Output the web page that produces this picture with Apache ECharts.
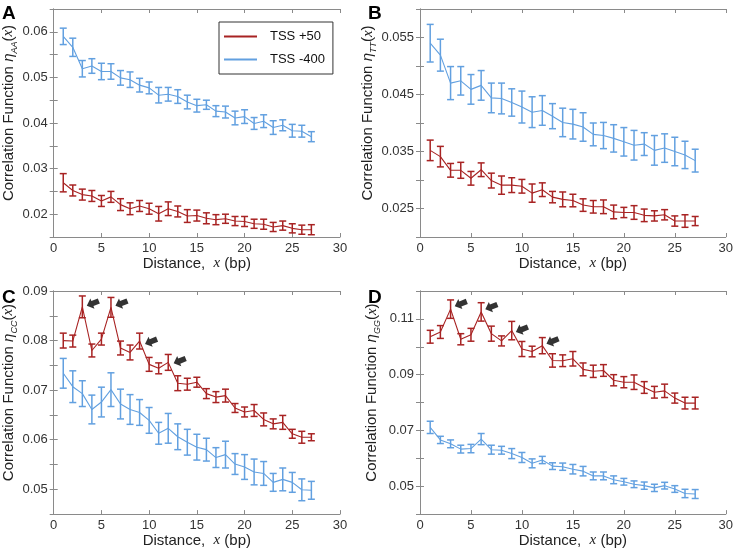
<!DOCTYPE html>
<html>
<head>
<meta charset="utf-8">
<script src="https://cdn.jsdelivr.net/npm/echarts@6/dist/echarts.min.js"></script>
<style>
  html, body { margin: 0; padding: 0; background: #fff; }
  #main { width: 736px; height: 549px; }
</style>
</head>
<body>
<div id="main"></div>
<script>
// distance x (bp)
var distance = [1,2,3,4,5,6,7,8,9,10,11,12,13,14,15,16,17,18,19,20,21,22,23,24,25,26,27];
var xTicks = [0, 5, 10, 15, 20, 25, 30];

// A: eta_AA
var aRed = [0.0269,0.0252,0.0243,0.0240,0.0229,0.0238,0.0221,0.0212,0.0218,0.0212,0.0201,0.0212,0.0206,0.0196,0.0197,0.0191,0.0188,0.0190,0.0185,0.0184,0.0179,0.0178,0.0172,0.0175,0.0169,0.0166,0.0166];
var aRedErr = [0.0020,0.0012,0.0012,0.0012,0.0012,0.0012,0.0013,0.0013,0.0012,0.0012,0.0016,0.0015,0.0012,0.0014,0.0012,0.0012,0.0011,0.0010,0.0010,0.0011,0.0010,0.0011,0.0010,0.0010,0.0010,0.0010,0.0011];
var aBlue = [0.0590,0.0566,0.0519,0.0525,0.0513,0.0513,0.0499,0.0495,0.0483,0.0477,0.0461,0.0463,0.0458,0.0446,0.0438,0.0440,0.0426,0.0424,0.0411,0.0414,0.0399,0.0404,0.0390,0.0395,0.0383,0.0382,0.0370];
var aBlueErr = [0.0018,0.0020,0.0018,0.0016,0.0018,0.0017,0.0016,0.0017,0.0015,0.0013,0.0017,0.0015,0.0015,0.0015,0.0014,0.0010,0.0012,0.0013,0.0015,0.0015,0.0013,0.0014,0.0015,0.0012,0.0014,0.0013,0.0011];
var aTicks = [0.02, 0.03, 0.04, 0.05, 0.06];

// B: eta_TT
var bRed = [0.0352,0.0341,0.0317,0.0317,0.0303,0.0318,0.0299,0.0291,0.0291,0.0289,0.0277,0.0283,0.0270,0.0266,0.0264,0.0256,0.0253,0.0253,0.0244,0.0243,0.0243,0.0238,0.0237,0.0239,0.0228,0.0228,0.0228];
var bRedErr = [0.0018,0.0018,0.0012,0.0014,0.0012,0.0012,0.0013,0.0016,0.0013,0.0012,0.0016,0.0012,0.0010,0.0013,0.0011,0.0011,0.0011,0.0012,0.0012,0.0009,0.0012,0.0011,0.0009,0.0009,0.0009,0.0011,0.0008];
var bBlue = [0.0540,0.0519,0.0470,0.0474,0.0459,0.0466,0.0444,0.0443,0.0436,0.0428,0.0419,0.0422,0.0412,0.0401,0.0398,0.0393,0.0380,0.0378,0.0373,0.0367,0.0361,0.0363,0.0352,0.0356,0.0350,0.0344,0.0334];
var bBlueErr = [0.0033,0.0028,0.0029,0.0025,0.0026,0.0026,0.0026,0.0027,0.0024,0.0028,0.0027,0.0026,0.0022,0.0025,0.0026,0.0025,0.0020,0.0023,0.0024,0.0025,0.0026,0.0020,0.0026,0.0025,0.0025,0.0024,0.0020];
var bTicks = [0.025, 0.035, 0.045, 0.055];

// C: eta_CC
var cRed = [0.0800,0.0799,0.0868,0.0780,0.0803,0.0867,0.0785,0.0776,0.0799,0.0752,0.0744,0.0756,0.0714,0.0712,0.0716,0.0693,0.0686,0.0689,0.0664,0.0656,0.0659,0.0641,0.0632,0.0635,0.0612,0.0605,0.0605];
var cRedErr = [0.0015,0.0012,0.0022,0.0013,0.0012,0.0020,0.0014,0.0015,0.0016,0.0014,0.0011,0.0016,0.0015,0.0012,0.0010,0.0010,0.0011,0.0013,0.0009,0.0010,0.0012,0.0013,0.0010,0.0014,0.0009,0.0012,0.0007];
var cBlue = [0.0734,0.0707,0.0693,0.0661,0.0676,0.0701,0.0672,0.0661,0.0655,0.0639,0.0613,0.0623,0.0606,0.0595,0.0585,0.0580,0.0564,0.0570,0.0551,0.0545,0.0535,0.0532,0.0514,0.0520,0.0514,0.0499,0.0498];
var cBlueErr = [0.0030,0.0032,0.0026,0.0029,0.0030,0.0034,0.0030,0.0030,0.0026,0.0026,0.0022,0.0030,0.0026,0.0026,0.0026,0.0023,0.0020,0.0027,0.0021,0.0025,0.0026,0.0024,0.0018,0.0023,0.0020,0.0022,0.0018];
var cTicks = [0.05, 0.06, 0.07, 0.08, 0.09];
var cArrows = [[4.1, 0.0875], [7.1, 0.0875], [10.2, 0.0798], [13.2, 0.0759]];

// D: eta_GG
var dRed = [0.1036,0.1053,0.1135,0.1027,0.1043,0.1125,0.1047,0.1021,0.1058,0.0992,0.0983,0.1004,0.0951,0.0950,0.0957,0.0919,0.0912,0.0915,0.0880,0.0873,0.0873,0.0854,0.0837,0.0842,0.0816,0.0798,0.0798];
var dRedErr = [0.0023,0.0023,0.0033,0.0020,0.0023,0.0033,0.0027,0.0018,0.0033,0.0027,0.0019,0.0029,0.0024,0.0021,0.0026,0.0023,0.0022,0.0021,0.0020,0.0020,0.0026,0.0021,0.0021,0.0024,0.0018,0.0021,0.0021];
var dBlue = [0.0711,0.0666,0.0652,0.0633,0.0635,0.0669,0.0631,0.0629,0.0617,0.0603,0.0582,0.0594,0.0572,0.0570,0.0561,0.0554,0.0537,0.0537,0.0523,0.0516,0.0507,0.0502,0.0494,0.0502,0.0490,0.0474,0.0472];
var dBlueErr = [0.0022,0.0013,0.0014,0.0014,0.0015,0.0020,0.0016,0.0014,0.0018,0.0018,0.0016,0.0013,0.0012,0.0013,0.0017,0.0017,0.0014,0.0014,0.0014,0.0012,0.0012,0.0013,0.0013,0.0012,0.0012,0.0015,0.0016];
var dTicks = [0.05, 0.07, 0.09, 0.11];
var dArrows = [[4.0, 0.1154], [7.0, 0.1143], [10.0, 0.1062], [13.0, 0.1020]];

var seriesNames = ['TSS +50', 'TSS -400'];

var RED = '#a82323';
var BLUE = '#62a0e0';
var FONT = 'Liberation Sans, Arial, sans-serif';
var SERIF = 'Liberation Serif, Times New Roman, serif';

var panels = [
  { letter: 'A', sub: 'AA', red: aRed, redErr: aRedErr, blue: aBlue, blueErr: aBlueErr, ticks: aTicks,
    min: 0.015, max: 0.065, step: 0.005, grid: { left: 44, top: 9, width: 296, height: 228 }, gap: 29, lx: 2, ly: 4 },
  { letter: 'B', sub: 'TT', red: bRed, redErr: bRedErr, blue: bBlue, blueErr: bBlueErr, ticks: bTicks,
    min: 0.02, max: 0.06, step: 0.005, grid: { left: 420, top: 9, width: 307, height: 228 }, gap: 38, lx: 368, ly: 4 },
  { letter: 'C', sub: 'CC', red: cRed, redErr: cRedErr, blue: cBlue, blueErr: cBlueErr, ticks: cTicks, arrows: cArrows,
    min: 0.045, max: 0.09, step: 0.005, grid: { left: 45, top: 291, width: 295, height: 227 }, gap: 29, lx: 2, ly: 288 },
  { letter: 'D', sub: 'GG', red: dRed, redErr: dRedErr, blue: dBlue, blueErr: dBlueErr, ticks: dTicks, arrows: dArrows,
    min: 0.04, max: 0.12, step: 0.01, grid: { left: 420, top: 291, width: 307, height: 227 }, gap: 38, lx: 368, ly: 288 }
];

function pairs(vals) {
  return distance.map(function (x, i) { return [x, vals[i]]; });
}
function bars(vals, errs) {
  return distance.map(function (x, i) { return [x, vals[i] - errs[i], vals[i] + errs[i]]; });
}

function renderErr(params, api) {
  var x = api.value(0);
  var lo = api.coord([x, api.value(1)]);
  var hi = api.coord([x, api.value(2)]);
  var w = 3.5;
  var st = { stroke: api.visual('color'), lineWidth: 1.5, fill: null };
  return {
    type: 'group',
    children: [
      { type: 'line', shape: { x1: lo[0], y1: lo[1], x2: hi[0], y2: hi[1] }, style: st },
      { type: 'line', shape: { x1: lo[0] - w, y1: lo[1], x2: lo[0] + w, y2: lo[1] }, style: st },
      { type: 'line', shape: { x1: hi[0] - w, y1: hi[1], x2: hi[0] + w, y2: hi[1] }, style: st }
    ]
  };
}

var axisLine = { show: true, lineStyle: { color: '#8a8a8a', width: 1 } };
var axisTick = { show: true, inside: true, length: 4, lineStyle: { color: '#8a8a8a' } };

var grids = [], xAxes = [], yAxes = [], series = [], graphics = [];

panels.forEach(function (p, gi) {
  grids.push(p.grid);

  xAxes.push({
    gridIndex: gi, type: 'value', min: 0, max: 30, interval: 5, position: 'bottom',
    axisLine: axisLine, axisTick: axisTick, splitLine: { show: false },
    axisLabel: { color: '#333', fontSize: 13, fontFamily: FONT, margin: 5,
      formatter: function (v) { return xTicks.indexOf(v) >= 0 ? String(v) : ''; } },
    name: '{t|Distance,  }{v|x}{t| (bp)}', nameLocation: 'middle', nameGap: 16,
    nameTextStyle: { rich: {
      t: { fontSize: 15, fontFamily: FONT, color: '#222' },
      v: { fontSize: 15, fontFamily: SERIF, fontStyle: 'italic', color: '#222' }
    } }
  });
  xAxes.push({
    gridIndex: gi, type: 'value', min: 0, max: 30, interval: 5, position: 'top',
    axisLine: axisLine, axisTick: axisTick, splitLine: { show: false }, axisLabel: { show: false }
  });

  yAxes.push({
    gridIndex: gi, type: 'value', min: p.min, max: p.max, interval: p.step, position: 'left',
    axisLine: axisLine, axisTick: axisTick, splitLine: { show: false },
    axisLabel: { color: '#333', fontSize: 13, fontFamily: FONT, margin: 6,
      formatter: function (v) {
        for (var k = 0; k < p.ticks.length; k++) {
          if (Math.abs(p.ticks[k] - v) < 1e-7) return String(p.ticks[k]);
        }
        return '';
      } },
    name: '{t|Correlation Function }{e|η}{s|' + p.sub + '}{p|(}{v|x}{p|)}',
    nameLocation: 'middle', nameGap: p.gap,
    nameTextStyle: { padding: [0, 0, 0, 20], rich: {
      t: { fontSize: 15, fontFamily: FONT, color: '#222', lineHeight: 20 },
      e: { fontSize: 15, fontFamily: FONT, fontStyle: 'italic', color: '#222', lineHeight: 20 },
      s: { fontSize: 9, fontFamily: FONT, fontStyle: 'italic', color: '#222', verticalAlign: 'bottom' },
      p: { fontSize: 15, fontFamily: FONT, color: '#222', lineHeight: 20 },
      v: { fontSize: 15, fontFamily: SERIF, fontStyle: 'italic', color: '#222', lineHeight: 20 }
    } }
  });
  yAxes.push({
    gridIndex: gi, type: 'value', min: p.min, max: p.max, interval: p.step, position: 'right',
    axisLine: axisLine, axisTick: axisTick, splitLine: { show: false }, axisLabel: { show: false }
  });

  var xi = gi * 2, yi = gi * 2;
  [[seriesNames[1], p.blue, p.blueErr, BLUE], [seriesNames[0], p.red, p.redErr, RED]].forEach(function (s) {
    series.push({
      name: s[0], type: 'custom', xAxisIndex: xi, yAxisIndex: yi,
      renderItem: renderErr, encode: { x: 0, y: [1, 2] },
      itemStyle: { color: s[3] }, data: bars(s[1], s[2]), z: 2
    });
    series.push({
      name: s[0], type: 'line', xAxisIndex: xi, yAxisIndex: yi,
      data: pairs(s[1]), showSymbol: false, symbol: 'none',
      lineStyle: { color: s[3], width: 1.1 }, itemStyle: { color: s[3] }, z: 3
    });
  });

  if (p.arrows) {
    series.push({
      name: 'arrows', type: 'scatter', xAxisIndex: xi, yAxisIndex: yi,
      symbol: 'path://M0,6 L6.5,0 L6.5,3 L14,3 L14,9 L6.5,9 L6.5,12 Z',
      symbolSize: [13, 11], symbolRotate: 22,
      itemStyle: { color: '#000' }, data: p.arrows, z: 4
    });
  }

  graphics.push({
    type: 'text', left: p.lx, top: p.ly,
    style: { text: p.letter, fontSize: 19, fontWeight: 'bold', fontFamily: FONT, fill: '#000' }
  });
});

var chart = echarts.init(document.getElementById('main'));
chart.setOption({
  animation: false,
  backgroundColor: '#fff',
  grid: grids,
  xAxis: xAxes,
  yAxis: yAxes,
  legend: {
    data: seriesNames, orient: 'vertical', left: 219, top: 22,
    itemWidth: 33, itemHeight: 2, icon: 'rect', itemGap: 10,
    padding: [8, 8, 8, 5], borderColor: '#333', borderWidth: 1, backgroundColor: '#fff',
    textStyle: { fontSize: 13, fontFamily: FONT, color: '#111', padding: [0, 0, 0, 8] }
  },
  graphic: graphics,
  series: series
});
</script>
</body>
</html>
